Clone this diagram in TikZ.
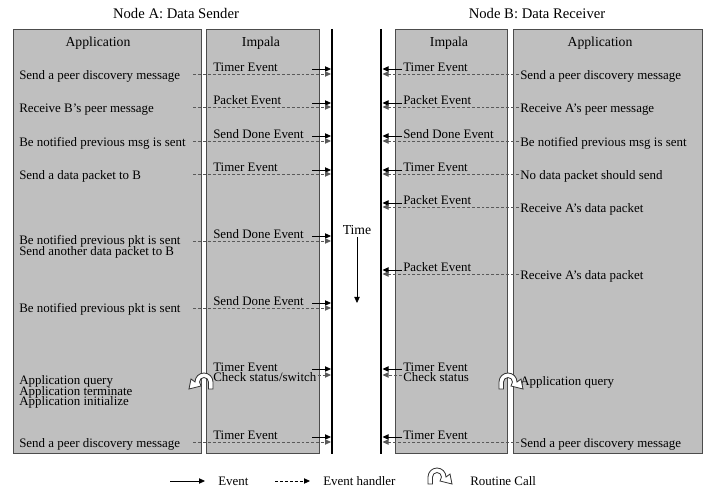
\documentclass[tikz,border=0pt]{standalone}
\usepackage{fontspec}
\setmainfont{Liberation Serif}
\usetikzlibrary{arrows.meta}

\tikzset{
  panel/.style={draw=black!70, fill=black!25, line width=0.6pt},
  timeline/.style={line width=2.2pt},
  evt/.style={-{Triangle[length=4.5pt,width=4pt]}, line width=0.6pt},
  hdl/.style={-{Triangle[length=4.5pt,width=4pt]}, draw=black!65, line width=0.6pt, dash pattern=on 2.2pt off 1.5pt},
  txt/.style={anchor=base west, inner sep=0pt, font=\fontsize{9.7}{10}\selectfont},
  head/.style={anchor=base, inner sep=0pt, font=\fontsize{10.3}{11}\selectfont},
  ttl/.style={anchor=base, inner sep=0pt, font=\fontsize{11}{12}\selectfont},
  % y runs upwards inside the pic
  routine/.pic={
    \draw[black!80, fill=white, line width=0.6pt, line join=miter]
      (9,-7) -- (9,0) arc[start angle=0, end angle=180, radius=9]
      -- (-13,3) -- (-15,-7) -- (-3,-4) -- (-4.5,0)
      arc[start angle=180, end angle=0, radius=4.5] -- (4.5,-7) -- cycle;
  }
}

\begin{document}
\begin{tikzpicture}[x=0.75pt,y=0.75pt,yscale=-1,xscale=1]
\useasboundingbox (0,0) rectangle (710,491);

% Titles
\draw (176,19) node (ttlA) [ttl] {Node A: Data Sender};
\draw (537,19) node (ttlB) [ttl] {Node B: Data Receiver};

%Shape: Rectangle [panels]
\draw [panel] (13,29) rectangle (201,453);
\draw [panel] (206,29) rectangle (319,453);
\draw [panel] (395,29) rectangle (507,453);
\draw [panel] (513,29) rectangle (702,453);

%Straight Lines [time lines]
\coordinate (tlAtop) at (332,29); \coordinate (tlAbot) at (332,454);
\coordinate (tlBtop) at (381,29); \coordinate (tlBbot) at (381,454);
\draw [timeline] (tlAtop) -- (tlAbot);
\draw [timeline] (tlBtop) -- (tlBbot);

% Headers
\draw (98,46.5) node (hdAppA) [head] {Application};
\draw (261,46.5) node (hdImpA) [head] {Impala};
\draw (449,46.5) node (hdImpB) [head] {Impala};
\draw (600,46.5) node (hdAppB) [head] {Application};

% Text Node: sender application
\draw (19,79.5) node (appA1) [txt] {Send a peer discovery message};
\draw (19,112.5) node (appA2) [txt] {Receive B’s peer message};
\draw (19,146.5) node (appA3) [txt] {Be notified previous msg is sent};
\draw (19,179.5) node (appA4) [txt] {Send a data packet to B};
\draw (19,245) node (appA6) [txt] {Be notified previous pkt is sent};
\draw (19,256) node (appA6b) [txt] {Send another data packet to B};
\draw (19,313) node (appA8) [txt] {Be notified previous pkt is sent};
\draw (19,384) node (appA9) [txt] {Application query};
\draw (19,395) node (appA9b) [txt] {Application terminate};
\draw (19,405.5) node (appA9c) [txt] {Application initialize};
\draw (19,447.5) node (appA10) [txt] {Send a peer discovery message};

% Text Node: sender impala
\draw (213,71.5) node (impA1) [txt] {Timer Event};
\draw (213,104.5) node (impA2) [txt] {Packet Event};
\draw (213,138.5) node (impA3) [txt] {Send Done Event};
\draw (213,171.5) node (impA4) [txt] {Timer Event};
\draw (213,238.5) node (impA6) [txt] {Send Done Event};
\draw (213,305.5) node (impA8) [txt] {Send Done Event};
\draw (213,371.7) node (impA9) [txt] {Timer Event};
\draw (213,381.7) node (impA9b) [txt] {Check status/switch};
\draw (213,439.5) node (impA10) [txt] {Timer Event};

% Text Node: receiver impala
\draw (403,71.5) node (impB1) [txt] {Timer Event};
\draw (403,104.5) node (impB2) [txt] {Packet Event};
\draw (403,138.5) node (impB3) [txt] {Send Done Event};
\draw (403,171.5) node (impB4) [txt] {Timer Event};
\draw (403,204.5) node (impB5) [txt] {Packet Event};
\draw (403,271.5) node (impB7) [txt] {Packet Event};
\draw (403,371.7) node (impB9) [txt] {Timer Event};
\draw (403,381.7) node (impB9b) [txt] {Check status};
\draw (403,439.5) node (impB10) [txt] {Timer Event};

% Text Node: receiver application
\draw (520,79.5) node (appB1) [txt] {Send a peer discovery message};
\draw (520,112.5) node (appB2) [txt] {Receive A’s peer message};
\draw (520,146.5) node (appB3) [txt] {Be notified previous msg is sent};
\draw (520,179.5) node (appB4) [txt] {No data packet should send};
\draw (520,212.5) node (appB5) [txt] {Receive A’s data packet};
\draw (520,279.5) node (appB7) [txt] {Receive A’s data packet};
\draw (520,385) node (appB9) [txt] {Application query};
\draw (520,447.5) node (appB10) [txt] {Send a peer discovery message};

% events and handlers into the time lines
\foreach \n/\ys/\yd/\xd in {1/69/74/193, 2/103/107/193, 3/136/141/193, 4/170/174/193,
    6/236/241/193, 8/303/308/193, 9/369/375/318, 10/437/442/193} {
  \coordinate (evA\n) at (312,\ys); \coordinate (evAe\n) at (331,\ys);
  \coordinate (hdA\n) at (\xd,\yd); \coordinate (hdAe\n) at (331,\yd);
  \draw [evt] (evA\n) -- (evAe\n);
  \draw [hdl] (hdA\n) -- (hdAe\n);
}
\foreach \n/\ys/\yd/\xd in {1/69/74/519, 2/103/107/519, 3/136/141/519, 4/170/174/519,
    5/203/207/519, 7/270/274/519, 9/369/375/402, 10/437/442/519} {
  \coordinate (evB\n) at (402,\ys); \coordinate (evBe\n) at (382.5,\ys);
  \coordinate (hdB\n) at (\xd,\yd); \coordinate (hdBe\n) at (382.5,\yd);
  \draw [evt] (evB\n) -- (evBe\n);
  \draw [hdl] (hdB\n) -- (hdBe\n);
}

% routine calls
\pic at (204,382) {routine};
\pic [xscale=-1] at (508,382) {routine};

% Time
\draw (357,230) node (time) [head, anchor=center] {Time};
\coordinate (timeBeg) at (357,237); \coordinate (timeEnd) at (357,303);
\draw [evt] (timeBeg) -- (timeEnd);

% Legend
\coordinate (lgEa) at (170,481); \coordinate (lgEb) at (205,481);
\coordinate (lgHa) at (275,481); \coordinate (lgHb) at (310,481);
\draw [evt] (lgEa) -- (lgEb);
\draw [hdl, draw=black] (lgHa) -- (lgHb);
\draw (218,485) node (lgE) [txt] {Event};
\draw (323,485) node (lgH) [txt] {Event handler};
\pic [xscale=-1] at (437,477) {routine};
\draw (470,485) node (lgR) [txt] {Routine Call};

\end{tikzpicture}
\end{document}
